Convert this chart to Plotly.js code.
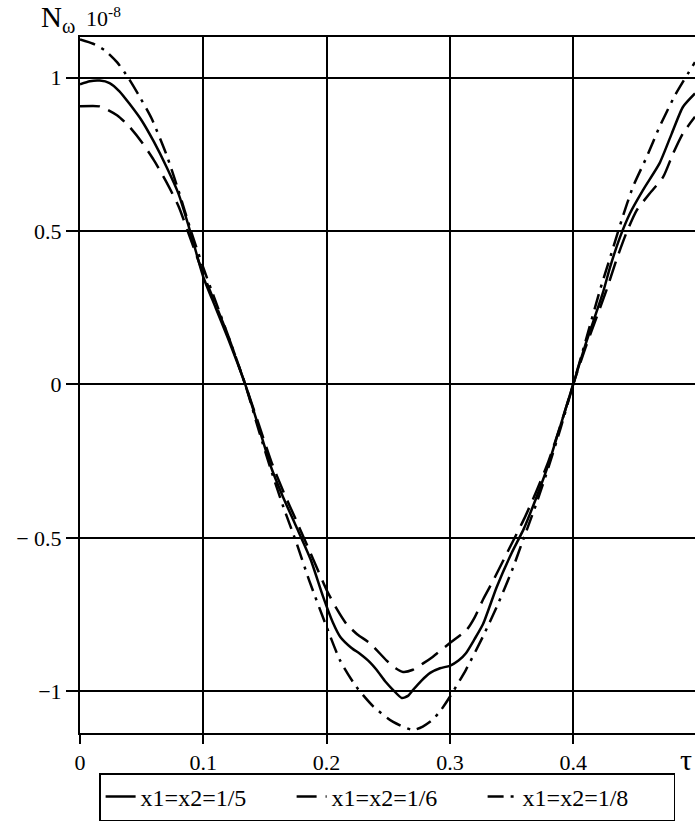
<!DOCTYPE html>
<html>
<head>
<meta charset="utf-8">
<script src="https://cdn.plot.ly/plotly-3.0.1.min.js"></script>
<style>html,body{margin:0;padding:0;background:#fff;}#chart{width:695px;height:821px;}</style>
</head>
<body>
<div id="chart"></div>
<script>
// series names
const seriesNames = ["x1=x2=1/5", "x1=x2=1/6", "x1=x2=1/8"];

// x1=x2=1/5 (solid)
const tau5 = [0,0.008,0.016,0.024,0.032,0.04,0.05,0.06,0.07,0.08,0.09,0.1,0.11,0.12,0.134,0.145,0.155,0.165,0.175,0.187,0.197,0.205,0.211,0.22,0.227,0.235,0.2405,0.248,0.254,0.261,0.266,0.27,0.277,0.284,0.292,0.3,0.307,0.313,0.32,0.327,0.338,0.35,0.36,0.37,0.38,0.39,0.4,0.41,0.424,0.43,0.438,0.446,0.4566,0.47,0.48,0.489,0.4988];
const n5 = [0.978,0.988,0.99,0.982,0.955,0.915,0.86,0.79,0.71,0.62,0.49,0.35,0.25,0.15,0.0,-0.14,-0.27,-0.37,-0.46,-0.57,-0.69,-0.775,-0.822,-0.858,-0.878,-0.905,-0.93,-0.97,-0.996,-1.022,-1.015,-0.996,-0.965,-0.94,-0.925,-0.917,-0.9,-0.876,-0.83,-0.78,-0.66,-0.55,-0.47,-0.37,-0.26,-0.13,0.0,0.13,0.297,0.383,0.48,0.557,0.633,0.72,0.818,0.904,0.948];

// x1=x2=1/6 (dashed)
const tau6 = [0,0.016,0.03,0.04,0.05,0.06,0.07,0.08,0.09,0.1,0.11,0.12,0.134,0.145,0.155,0.165,0.175,0.187,0.2,0.208,0.216,0.225,0.235,0.2487,0.256,0.262,0.27,0.278,0.286,0.3,0.3136,0.32,0.327,0.335,0.35,0.36,0.37,0.38,0.39,0.4,0.41,0.427,0.435,0.443,0.4515,0.462,0.473,0.481,0.489,0.4988];
const n6 = [0.906,0.906,0.877,0.84,0.79,0.73,0.66,0.58,0.47,0.36,0.26,0.16,0.0,-0.13,-0.25,-0.35,-0.44,-0.55,-0.67,-0.73,-0.78,-0.815,-0.843,-0.9,-0.925,-0.937,-0.93,-0.91,-0.888,-0.843,-0.8,-0.76,-0.7,-0.64,-0.52,-0.44,-0.35,-0.25,-0.13,0.0,0.12,0.307,0.405,0.492,0.567,0.622,0.676,0.752,0.818,0.872];

// x1=x2=1/8 (dash-dot)
const tau8 = [0,0.0107,0.02,0.03,0.039,0.048,0.058,0.07,0.08,0.09,0.1,0.11,0.12,0.134,0.145,0.155,0.165,0.175,0.186,0.2,0.211,0.224,0.238,0.254,0.27,0.278,0.286,0.293,0.3,0.313,0.327,0.338,0.35,0.36,0.37,0.38,0.39,0.4,0.41,0.4217,0.431,0.4393,0.4485,0.4596,0.47,0.4826,0.4988];
const n8 = [1.124,1.11,1.089,1.05,1.0,0.94,0.867,0.75,0.63,0.5,0.38,0.27,0.16,0.0,-0.15,-0.28,-0.4,-0.51,-0.64,-0.79,-0.9,-0.985,-1.05,-1.1,-1.126,-1.115,-1.093,-1.06,-1.018,-0.93,-0.82,-0.725,-0.61,-0.5,-0.39,-0.27,-0.14,0.0,0.14,0.307,0.427,0.535,0.644,0.741,0.839,0.942,1.05];

// tick values / labels
const xTicks = [0, 0.1, 0.2, 0.3, 0.4];
const xTickLabels = ["0", "0.1", "0.2", "0.3", "0.4"];
const yTicks = [-1, -0.5, 0, 0.5, 1];
const yTickLabels = ["\u22121", "\u2212 0.5", "0", "0.5", "1"];

const FONT = "'Liberation Serif', 'Times New Roman', 'DejaVu Serif', serif";

const traces = [
  {x: tau5, y: n5, name: seriesNames[0], mode: "lines", line: {color: "#000", width: 2.5, shape: "spline", smoothing: 0.6}},
  {x: tau6, y: n6, name: seriesNames[1], mode: "lines", line: {color: "#000", width: 2.5, dash: "20px,9px", shape: "spline", smoothing: 0.6}},
  {x: tau8, y: n8, name: seriesNames[2], mode: "lines", line: {color: "#000", width: 2.5, dash: "16px,7px,3px,7px", shape: "spline", smoothing: 0.6}}
];

const layout = {
  width: 695, height: 821,
  margin: {l: 80, r: 0, t: 37, b: 88, pad: 0},
  paper_bgcolor: "#fff", plot_bgcolor: "#fff",
  font: {family: FONT, size: 21, color: "#000"},
  showlegend: true,
  legend: {
    orientation: "h", x: 0.557, xanchor: "center", xref: "container",
    y: 0.0, yanchor: "bottom", yref: "container",
    bordercolor: "#000", borderwidth: 1.5,
    font: {family: FONT, size: 24, color: "#000"},
    entrywidth: 146, entrywidthmode: "pixels",
    tracegroupgap: 0
  },
  xaxis: {
    range: [0, 0.4988],
    tickvals: xTicks, ticktext: xTickLabels,
    ticks: "outside", ticklen: 9, tickwidth: 2, tickcolor: "#000",
    showgrid: true, gridcolor: "#000", gridwidth: 2,
    showline: true, linecolor: "#000", linewidth: 2, mirror: true,
    zeroline: false,
    tickfont: {family: FONT, size: 22, color: "#000"}
  },
  yaxis: {
    range: [-1.136, 1.132],
    tickvals: yTicks, ticktext: yTickLabels,
    ticks: "outside", ticklen: 12, tickwidth: 2, tickcolor: "#000",
    showgrid: true, gridcolor: "#000", gridwidth: 2,
    showline: true, linecolor: "#000", linewidth: 2, mirror: false,
    zeroline: true, zerolinecolor: "#000", zerolinewidth: 2,
    tickfont: {family: FONT, size: 22, color: "#000"}
  },
  annotations: [
    {text: "N<sub>\u03c9</sub>", xref: "paper", yref: "paper", x: -0.036, y: 1.0, xanchor: "center", yanchor: "bottom", yshift: -2, showarrow: false, font: {family: FONT, size: 29, color: "#000"}},
    {text: "10<sup>-8</sup>", xref: "paper", yref: "paper", x: 0.006, y: 1.0, xanchor: "left", yanchor: "bottom", yshift: 4, showarrow: false, font: {family: FONT, size: 22, color: "#000"}},
    {text: "\u03c4", xref: "paper", yref: "paper", x: 0.985, y: 0, xanchor: "center", yanchor: "top", yshift: -8, showarrow: false, font: {family: FONT, size: 30, color: "#000"}}
  ]
};

Plotly.newPlot("chart", traces, layout, {displayModeBar: false, staticPlot: true});
</script>
</body>
</html>
